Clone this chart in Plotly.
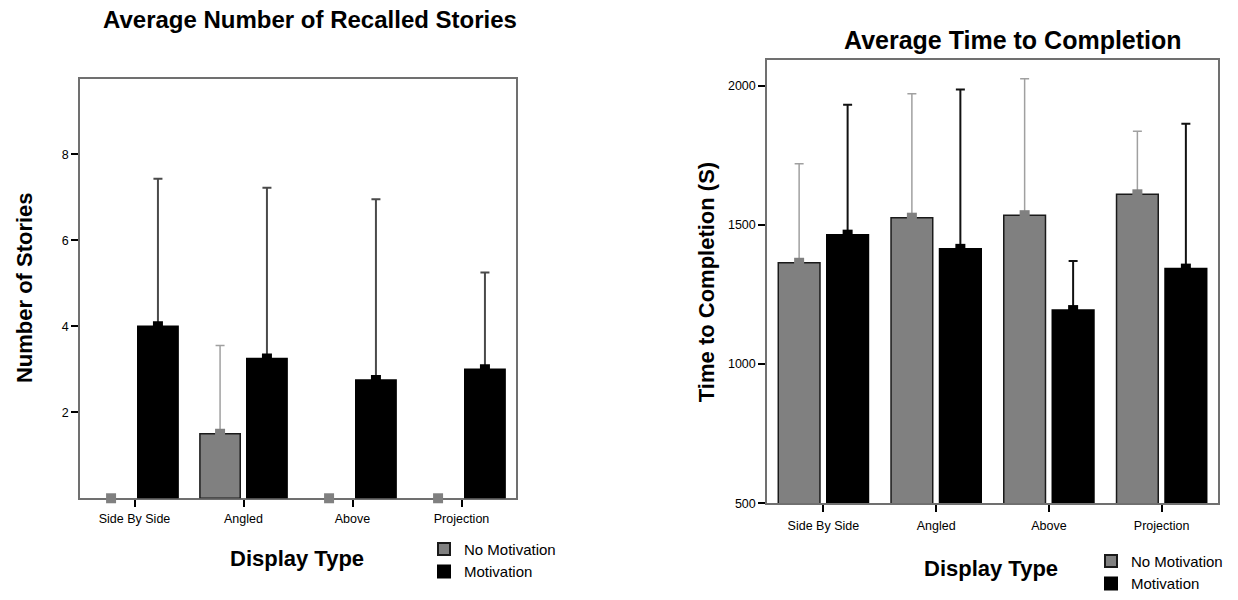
import numpy as np
import plotly.graph_objects as go

# ---------------- data ----------------
categories = ["Side By Side", "Angled", "Above", "Projection"]
series_names = ["No Motivation", "Motivation"]

stories_no_mot = [0.0, 1.5, 0.0, 0.0]
stories_no_mot_err_top = [0.0, 3.55, 0.0, 0.0]
stories_mot = [4.0, 3.25, 2.75, 3.0]
stories_mot_err_top = [7.43, 7.22, 6.95, 5.25]

time_no_mot = [1364, 1526, 1535, 1610]
time_no_mot_err_top = [1720, 1971, 2025, 1837]
time_mot = [1465, 1414, 1194, 1343]
time_mot_err_top = [1932, 1987, 1370, 1864]

stories_ticks = [2, 4, 6, 8]
time_ticks = [500, 1000, 1500, 2000]

# ---------------- style ----------------
W, H = 1238, 600
GREY = "#808080"
BLACK = "#000000"
OFF = 0.215
BW = 0.37
FONT = "Liberation Sans, Arial, sans-serif"
GREY_MARKER = dict(color=GREY, line=dict(color="#1a1a1a", width=1.5))
BLACK_MARKER = dict(color=BLACK, line=dict(color="#000000", width=1.5))
GREY_LEG = dict(color=GREY, line=dict(color="#1a1a1a", width=2))
BLACK_LEG = dict(color=BLACK, line=dict(color="#000000", width=2))

idx = np.arange(len(categories))

fig = go.Figure()


def add_chart(xa, ya, vals_nm, err_nm, vals_m, err_m, legend, mot_err_color):
    vals_nm = np.array(vals_nm, float)
    vals_m = np.array(vals_m, float)
    up_nm = np.array(err_nm, float) - vals_nm
    up_m = np.array(err_m, float) - vals_m
    zeros = np.zeros(len(categories))
    # zero-height bars are not drawn as bars (only the small marker remains)
    bar_nm = [None if v == 0 else v for v in vals_nm]
    # legend entries
    fig.add_trace(go.Bar(x=[None], y=[None], name=series_names[0], xaxis=xa, yaxis=ya,
                         legend=legend, marker=GREY_LEG, hoverinfo="skip"))
    fig.add_trace(go.Bar(x=[None], y=[None], name=series_names[1], xaxis=xa, yaxis=ya,
                         legend=legend, marker=BLACK_LEG, hoverinfo="skip"))
    fig.add_trace(go.Bar(
        x=idx - OFF, y=bar_nm, width=BW, name=series_names[0],
        xaxis=xa, yaxis=ya, showlegend=False, marker=GREY_MARKER,
        error_y=dict(type="data", symmetric=False, array=up_nm, arrayminus=zeros,
                     color="#a0a0a0", thickness=1.5, width=4.5),
        hoverinfo="skip"))
    fig.add_trace(go.Bar(
        x=idx + OFF, y=vals_m, width=BW, name=series_names[1],
        xaxis=xa, yaxis=ya, showlegend=False, marker=BLACK_MARKER,
        error_y=dict(type="data", symmetric=False, array=up_m, arrayminus=zeros,
                     color=mot_err_color, thickness=2, width=4.5),
        hoverinfo="skip"))
    # small square "bump" at the base of each error bar
    fig.add_trace(go.Scatter(
        x=idx - OFF, y=vals_nm, mode="markers", xaxis=xa, yaxis=ya,
        marker=dict(symbol="square", size=10, color=GREY, line=dict(color=GREY, width=0)),
        showlegend=False, hoverinfo="skip", cliponaxis=False))
    fig.add_trace(go.Scatter(
        x=idx + OFF, y=vals_m, mode="markers", xaxis=xa, yaxis=ya,
        marker=dict(symbol="square", size=10, color=BLACK),
        showlegend=False, hoverinfo="skip", cliponaxis=False))


add_chart("x", "y", stories_no_mot, stories_no_mot_err_top,
          stories_mot, stories_mot_err_top, "legend", "#4a4a4a")
add_chart("x2", "y2", time_no_mot, time_no_mot_err_top,
          time_mot, time_mot_err_top, "legend2", "#111111")

axis_common = dict(showline=True, linecolor="#707070", linewidth=1.5, mirror=True,
                   ticks="outside", ticklen=7, tickwidth=2, tickcolor="#000000",
                   showgrid=False, zeroline=False,
                   tickfont=dict(family=FONT, size=12.5, color="#000000"))

fig.update_layout(
    width=W, height=H,
    margin=dict(l=0, r=0, t=0, b=0),
    paper_bgcolor="white", plot_bgcolor="white",
    font=dict(family=FONT, color="#000000"),
    barmode="overlay",
    xaxis=dict(domain=[80 / W, 516 / W], range=[-0.5, 3.5], tickvals=idx.tolist(),
               ticktext=categories, anchor="y", layer="below traces",
               ticklabelstandoff=1, **axis_common),
    yaxis=dict(domain=[1 - 505 / H, 1 - 80 / H], range=[0, 9.75], tickvals=stories_ticks,
               anchor="x", **axis_common),
    xaxis2=dict(domain=[767 / W, 1218 / W], range=[-0.5, 3.5], tickvals=idx.tolist(),
                ticktext=categories, anchor="y2", ticklabelstandoff=3, **axis_common),
    yaxis2=dict(domain=[1 - 510 / H, 1 - 61 / H], range=[500, 2092], tickvals=time_ticks,
                anchor="x2", **axis_common),
    legend=dict(x=424 / W, y=1 - 540 / H, xanchor="left", yanchor="top",
                font=dict(family=FONT, size=15, color="#000000"),
                bgcolor="rgba(0,0,0,0)", tracegroupgap=0, itemclick=False),
    legend2=dict(x=1091 / W, y=1 - 552 / H, xanchor="left", yanchor="top",
                 font=dict(family=FONT, size=15, color="#000000"),
                 bgcolor="rgba(0,0,0,0)", tracegroupgap=0, itemclick=False),
    showlegend=True,
)

annos = [
    dict(text="<b>Average Number of Recalled Stories</b>", x=310 / W, y=1 - 20 / H, size=24, angle=0),
    dict(text="<b>Average Time to Completion</b>", x=1013 / W, y=1 - 41 / H, size=25, angle=0),
    dict(text="<b>Number of Stories</b>", x=24 / W, y=1 - 292 / H, size=22, angle=-90),
    dict(text="<b>Time to Completion (S)</b>", x=706 / W, y=1 - 286 / H, size=22, angle=-90),
    dict(text="<b>Display Type</b>", x=297 / W, y=1 - 566 / H, size=22, angle=0),
    dict(text="<b>Display Type</b>", x=991 / W, y=1 - 576 / H, size=22, angle=0),
]
for a in annos:
    fig.add_annotation(text=a["text"], x=a["x"], y=a["y"], xref="paper", yref="paper",
                       xanchor="center", yanchor="middle", showarrow=False,
                       textangle=a["angle"],
                       font=dict(family=FONT, size=a["size"], color="#000000"))

fig.write_html("out.html", config={"displayModeBar": False},
               post_script="document.body.style.margin='0';document.body.style.padding='0';")
